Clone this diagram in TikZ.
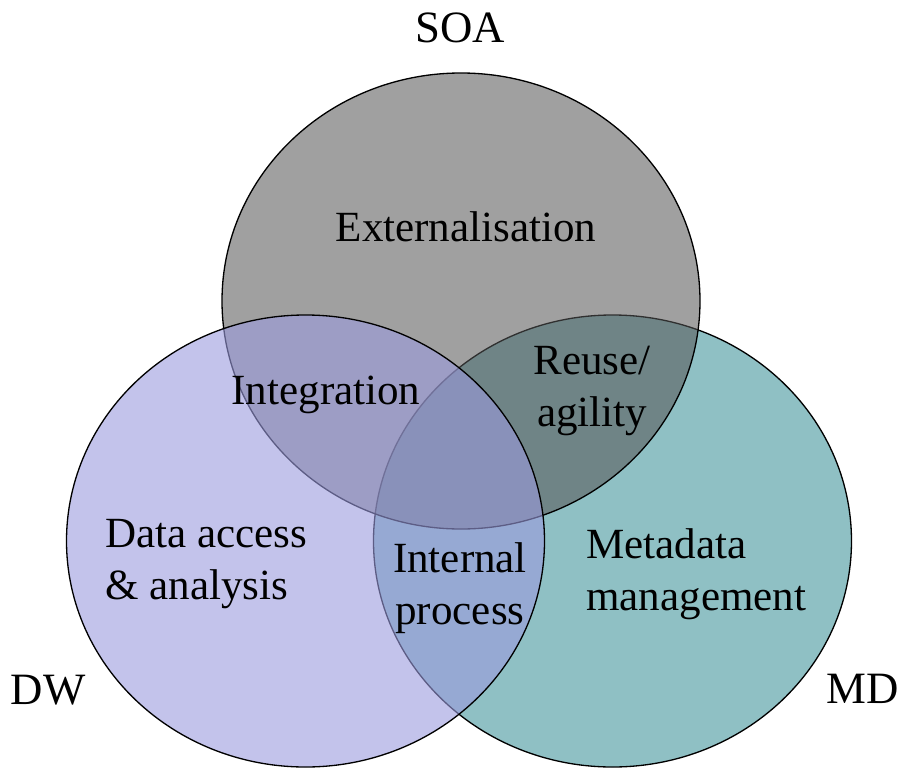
\documentclass[tikz,border=0pt]{standalone}
\usepackage{fontspec}
\setmainfont{Liberation Serif}
\usepackage{tikz}
\usetikzlibrary{positioning}

\definecolor{soagray}{RGB}{86,86,86}
\definecolor{dwblue}{RGB}{155,155,222}
\definecolor{mdteal}{RGB}{143,192,196}

\begin{document}
\begin{tikzpicture}[
            x=0.02cm,
            y=-0.02cm,
            set circle/.style={
                    draw=black,
                    line width=0.75pt
                },
            region label/.style={
                    inner sep=0pt,
                    font=\fontsize{24.5}{29.5}\selectfont
                },
            set label/.style={
                    inner sep=0pt,
                    font=\fontsize{25.5}{29}\selectfont
                }
        ]

        \useasboundingbox (0,0) rectangle (900,768);

        % Sets (MD below, then SOA, then DW on top)
        \draw[set circle, fill=mdteal] (612.5,541) ellipse [x radius=239, y radius=226];
        \draw[set circle, fill=soagray, fill opacity=0.56] (461,301) ellipse [x radius=239, y radius=228];
        \draw[set circle, fill=dwblue, fill opacity=0.6] (305.5,541) ellipse [x radius=239, y radius=226];

        % Set names
        \node[set label] (soa) at (460,28) {SOA};
        \node[set label] (dw) at (48,690) {DW};
        \node[set label] (md) at (863,689) {MD};

        % Region labels
        \node[region label] (ext) at (466,227) {Externalisation};
        \node[region label] (integ) at (326,395) {Integration};
        \node[region label, align=center] (reuse) at (592,391) {Reuse/\\agility};
        \node[region label, align=left, anchor=west] (access) at (105,564) {Data access\\\& analysis};
        \node[region label, align=center] (internal) at (460,588) {Internal\\process};
        \node[region label, align=left, anchor=west] (meta) at (586,574) {Metadata\\management};

    \end{tikzpicture}
\end{document}
